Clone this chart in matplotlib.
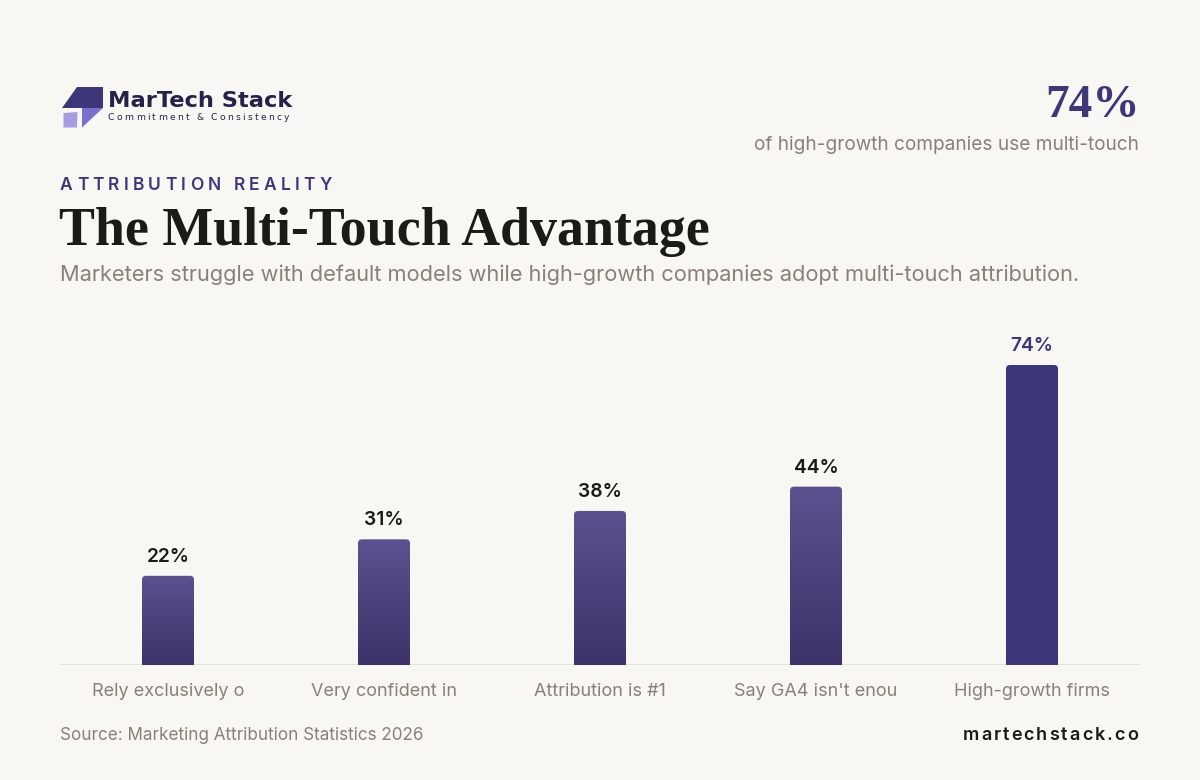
import matplotlib
matplotlib.use("Agg")
import matplotlib.pyplot as plt
import numpy as np
from matplotlib.patches import FancyBboxPatch, Polygon
from matplotlib.colors import LinearSegmentedColormap

# Data

categories = ["Rely exclusively o", "Very confident in", "Attribution is #1",
              "Say GA4 isn't enou", "High-growth firms"]
values = [22, 31, 38, 44, 74]
highlight = [False, False, False, False, True]

# Colours

BG = "#f9f7f4"
PURPLE = "#3d377a"
DARK = "#1c1a17"
GRAY = "#8a8079"
GRAD_TOP = "#5b528f"
GRAD_BOT = "#3c3369"

W, H = 1200, 780
fig = plt.figure(figsize=(12, 7.8), dpi=100, facecolor=BG)
renderer = fig.canvas.get_renderer()


def px(x, y):
    return x / W, 1 - y / H


def spaced_text(x, y, s, spacing, ha="left", **kw):
    # draw characters one by one to get letter spacing
    widths = []
    for ch in s:
        t = fig.text(0, 0, ch if ch != " " else "n", **kw)
        bb = t.get_window_extent(renderer)
        widths.append(bb.width * (0.45 if ch == " " else 1.0))
        t.remove()
    total = sum(widths) + spacing * (len(s) - 1)
    cx = x if ha == "left" else x - total
    for ch, w in zip(s, widths):
        if ch != " ":
            fig.text(*px(cx, y), ch, va="center_baseline", ha="left", **kw)
        cx += w + spacing


# Logo

logo_ax = fig.add_axes([0, 0, 1, 1], facecolor="none")
logo_ax.set_xlim(0, W)
logo_ax.set_ylim(H, 0)
logo_ax.axis("off")
logo_ax.add_patch(Polygon([(62, 108), (77, 87), (103, 87), (103, 108)],
                          closed=True, color=PURPLE, lw=0))
logo_ax.add_patch(Polygon([(82, 108), (103, 108), (82, 127.5)],
                          closed=True, color="#7a6fcf", lw=0))
logo_ax.add_patch(Polygon([(63.5, 113), (77.5, 112), (77, 127.5), (63.5, 127.5)],
                          closed=True, color="#a59ce2", lw=0))

fig.text(*px(108, 101), "MarTech Stack", fontsize=16.2, fontweight="bold",
         color="#25224a", va="center", ha="left", family="DejaVu Sans")
spaced_text(108, 116, "Commitment & Consistency", 2.3, fontsize=6.6,
            color="#25224a", family="DejaVu Sans")

# Top-right stat

fig.text(*px(1140, 106), "74%", fontsize=34, fontweight="bold", color=PURPLE,
         va="center", ha="right", family="Liberation Serif")
fig.text(*px(1139, 143), "of high-growth companies use multi-touch", fontsize=13.7,
         color=GRAY, va="center_baseline", ha="right", family="Inter")

# Headings

spaced_text(60, 184, "ATTRIBUTION REALITY", 4.2, fontsize=12.5, fontweight="semibold",
            color=PURPLE, family="Inter")
fig.text(*px(59, 232), "The Multi-Touch Advantage", fontsize=38.8, fontweight="bold",
         color=DARK, va="center", ha="left", family="Liberation Serif")
fig.text(*px(60, 273), "Marketers struggle with default models while high-growth "
         "companies adopt multi-touch attribution.", fontsize=15.7, color=GRAY,
         va="center_baseline", ha="left", family="Inter")

# Bar chart

ax_bottom, ax_top = 665, 325
ax = fig.add_axes([60 / W, 1 - ax_bottom / H, 1080 / W, (ax_bottom - ax_top) / H],
                  facecolor="none")
ymax = 74 * (ax_bottom - ax_top) / 300.0
ax.set_xlim(-0.5, len(values) - 0.5)
ax.set_ylim(0, ymax)
ax.axis("off")
ax.axhline(0, color="#e2ddd6", lw=1.2, zorder=1)

bar_w = 52 / 216
x_per_px = 1 / 216
y_per_px = ymax / (ax_bottom - ax_top)
radius = 4 * x_per_px
aspect = y_per_px / x_per_px
cmap = LinearSegmentedColormap.from_list("bar", [GRAD_BOT, GRAD_TOP])
grad = np.linspace(0, 1, 256).reshape(-1, 1)

for i, (v, hi) in enumerate(zip(values, highlight)):
    left = i - bar_w / 2
    patch = FancyBboxPatch((left, -6), bar_w, v + 6,
                           boxstyle=f"round,pad=0,rounding_size={radius}",
                           mutation_aspect=aspect, lw=0,
                           facecolor=PURPLE if hi else "none", zorder=2)
    ax.add_patch(patch)
    if not hi:
        im = ax.imshow(grad, cmap=cmap, origin="lower", aspect="auto",
                       extent=(left, left + bar_w, 0, v), zorder=2)
        im.set_clip_path(patch)
    ax.annotate(f"{v}%", (i, v), xytext=(0, 15), textcoords="offset points",
                ha="center", va="center_baseline", fontsize=13.8, fontweight="semibold",
                color=PURPLE if hi else DARK, family="Inter")
    ax.annotate(categories[i], (i, 0), xytext=(0, -18), textcoords="offset points",
                ha="center", va="center_baseline", fontsize=13, color=GRAY,
                family="Inter")

ax.set_xlim(-0.5, len(values) - 0.5)
ax.set_ylim(0, ymax)

# Footer

fig.text(*px(60, 734), "Source: Marketing Attribution Statistics 2026", fontsize=12.3,
         color=GRAY, va="center_baseline", ha="left", family="Inter")
spaced_text(1138, 734, "martechstack.co", 2.0, ha="right", fontsize=13,
            fontweight="semibold", color=DARK, family="Inter")

fig.savefig("out.png", dpi=100, facecolor=BG)
